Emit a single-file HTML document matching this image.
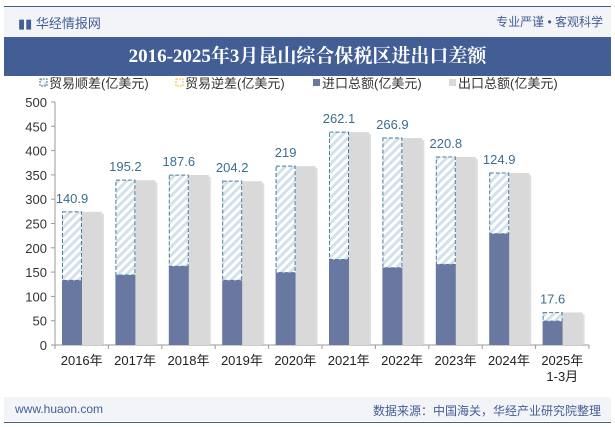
<!DOCTYPE html>
<html><head><meta charset="utf-8"><style>
body{margin:0;width:615px;height:427px;overflow:hidden;background:#fff;font-family:"Liberation Sans","Noto Sans CJK SC",sans-serif}
.hdr{position:absolute;left:4px;top:7px;width:607px;height:30px;background:#f3f4f8}
.title{position:absolute;left:4px;top:37px;width:607px;height:39px;background:#435d95;color:#fff;font-family:"Liberation Serif","Noto Serif CJK SC",serif;font-weight:bold;font-size:19px;text-align:center;line-height:39px}
.ftr{position:absolute;left:4px;top:397px;width:607px;height:24px;background:#f3f4f8}
</style></head><body>
<div style="position:absolute;left:4px;top:6px;width:607px;height:1px;background:#435d95"></div>
<div class="hdr">
 <span style="position:absolute;left:14px;top:6px;font-size:13px;color:#435d95">▮▮ 华经情报网</span>
 <span style="position:absolute;right:8px;top:6px;font-size:12px;color:#435d95">专业严谨 • 客观科学</span>
</div>
<div class="title">2016-2025年3月昆山综合保税区进出口差额</div>
<div class="ftr">
 <span style="position:absolute;left:11px;top:5px;font-size:12px;color:#435d95">www.huaon.com</span>
 <span style="position:absolute;right:10px;top:5px;font-size:12px;color:#435d95">数据来源：中国海关，华经产业研究院整理</span>
</div>
<div style="position:absolute;left:4px;top:422px;width:607px;height:1px;background:#435d95"></div>
<svg id="chart" width="615" height="427" style="position:absolute;left:0;top:0">
<defs><pattern id="hatch" width="6" height="6" patternUnits="userSpaceOnUse" patternTransform="rotate(45)"><rect width="6" height="6" fill="#fff"/><rect width="3" height="6" fill="#d3e1ea"/></pattern></defs>
</svg>
<script>
const categories=["2016年","2017年","2018年","2019年","2020年","2021年","2022年","2023年","2024年","2025年"];
const surplus=[140.9,195.2,187.6,204.2,219,262.1,266.9,220.8,124.9,17.6];
const imports=[133,144,162,133,149,176,159,166,229,49];
const exports=[274,339,350,337,368,438,426,387,354,67];
const yTicks=[0,50,100,150,200,250,300,350,400,450,500];
const svg=document.getElementById('chart');const NS='http://www.w3.org/2000/svg';
const x0=55,x1=589,y0=345,y1=102;
const bw=(x1-x0)/categories.length;
const y=v=>y0-(v/500)*(y0-y1);
function mk(t,a,txt){const e=document.createElementNS(NS,t);for(const k in a)e.setAttribute(k,a[k]);if(txt!==undefined)e.textContent=txt;svg.appendChild(e);return e;}
// legend
const leg=[["hatch","贸易顺差(亿美元)",40],["rev","贸易逆差(亿美元)",176],["imp","进口总额(亿美元)",313],["exp","出口总额(亿美元)",449]];
leg.forEach(l=>{
 let sw;
 if(l[0]=="hatch")sw=mk('rect',{x:l[2],y:79,width:7,height:7,fill:'url(#hatch)',stroke:'#4a7a9a','stroke-dasharray':'2,1'});
 else if(l[0]=="rev")sw=mk('rect',{x:l[2],y:79,width:7,height:7,fill:'#fff',stroke:'#f0c020','stroke-dasharray':'2,1'});
 else sw=mk('rect',{x:l[2],y:79,width:7,height:7,fill:l[0]=="imp"?'#6878a0':'#d9d9d9'});
 
 const t=mk('text',{x:l[2]+9,y:88,'font-size':13,fill:'#333'},l[1]);
 
});
// axes
const ya=mk('line',{x1:x0,y1:y1,x2:x0,y2:y0,stroke:'#999'});

const xa=mk('line',{x1:x0,y1:y0,x2:x1,y2:y0,stroke:'#999'});

yTicks.forEach(v=>{
 const tk=mk('line',{x1:x0-4,y1:y(v),x2:x0,y2:y(v),stroke:'#999'});
 
 const t=mk('text',{x:x0-8,y:y(v)+5,'font-size':13,fill:'#333','text-anchor':'end'},v);
 
});
categories.forEach((c,i)=>{
 const cx=x0+bw*i;
 const tk=mk('line',{x1:cx+bw,y1:y0,x2:cx+bw,y2:y0+4,stroke:'#999'});
 
 if(i==0){const t0=mk('line',{x1:cx,y1:y0,x2:cx,y2:y0+4,stroke:'#999'});}
 const ix=cx+7,w=20;
 const sh=mk('rect',{x:ix+w+2,y:y(exports[i])+2,width:w,height:y0-y(exports[i])-2,fill:'#c8c8c8',opacity:0.6});
 
 const ex=mk('rect',{x:ix+w,y:y(exports[i]),width:w,height:y0-y(exports[i]),fill:'#d9d9d9'});
 
 const sp=mk('rect',{x:ix+0.5,y:y(imports[i]+surplus[i]),width:w-1,height:y(imports[i])-y(imports[i]+surplus[i]),fill:'url(#hatch)',stroke:'#4a7a9a','stroke-dasharray':'4,2'});
 
 const im=mk('rect',{x:ix,y:y(imports[i]),width:w,height:y0-y(imports[i]),fill:'#6878a0'});
 
 const lb=mk('text',{x:ix+w/2,y:y(imports[i]+surplus[i])-9,'font-size':13,fill:'#3d6d8f','text-anchor':'middle'},surplus[i]);
 
 const xl=mk('text',{x:cx+bw/2,y:y0+20,'font-size':13,fill:'#222','text-anchor':'middle'},c);
 
 if(i==categories.length-1){const x2=mk('text',{x:cx+bw/2,y:y0+36,'font-size':13,fill:'#222','text-anchor':'middle'},'1-3月');}
});
</script>
</body></html>
